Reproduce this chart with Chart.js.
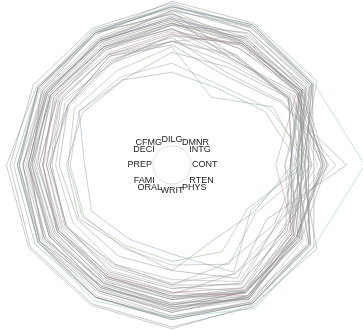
<!DOCTYPE html>
<html>
<head>
<meta charset="utf-8">
<script src="https://cdn.jsdelivr.net/npm/chart.js@4.4.0/dist/chart.umd.min.js"></script>
<style>
  html, body { margin: 0; padding: 0; background: #fff; }
  #wrap { width: 363px; height: 331px; }
</style>
</head>
<body>
<div id="wrap"><canvas id="c" width="363" height="331"></canvas></div>
<script>
// Categories (original column order, laid out counter-clockwise from the right)
const categories = ["CONT","INTG","DMNR","DILG","CFMG","DECI","PREP","FAMI","ORAL","WRIT","PHYS","RTEN"];

const judges = ["AARONSON,L.H.","ALEXANDER,J.M.","ARMENTANO,A.J.","BERDON,R.I.","BRACKEN,J.J.","BURNS,E.B.","CALLAHAN,R.J.","COHEN,S.S.","DALY,J.J.","DANNEHY,J.F.","DEAN,H.H.","DEVITA,H.J.","DRISCOLL,P.J.","GRILLO,A.E.","HADDEN,W.L.JR.","HAMILL,E.C.","HEALEY.A.H.","HULL,T.C.","LEVINE,I.","LEVISTER,R.L.","MARTIN,L.F.","MCGRATH,J.F.","MIGNONE,A.F.","MISSAL,H.M.","MULVEY,H.M.","NARUK,H.J.","O'BRIEN,F.J.","O'SULLIVAN,T.J.","PASKEY,L.","RUBINOW,J.E.","SADEN.G.A.","SATANIELLO,A.G.","SHEA,D.M.","SHEA,J.F.JR.","SIDOR,W.J.","SPEZIALE,J.A.","SPONZO,M.J.","STAPLETON,J.F.","TESTO,R.J.","TIERNEY,W.L.JR.","WALL,R.A.","WRIGHT,D.B.","ZARRILLI,K.J."];

const CONT = [5.7,6.8,7.2,6.8,7.3,6.2,10.6,7.0,7.3,8.2,7.0,6.5,6.7,7.0,6.5,7.3,8.0,7.7,8.3,9.6,7.1,7.6,6.6,6.2,7.5,7.8,7.1,7.5,7.5,7.1,6.6,8.4,6.9,7.3,7.7,8.5,6.9,6.5,8.3,8.3,9.0,7.1,8.6];
const INTG = [7.9,8.9,8.1,8.8,6.4,8.8,9.0,5.9,8.9,7.9,8.0,8.0,8.6,7.5,8.1,8.0,7.6,7.7,8.2,6.9,8.2,7.3,7.4,8.3,8.7,8.9,8.5,9.0,8.1,9.2,7.4,8.0,8.5,8.9,6.2,8.3,8.3,8.2,7.3,8.2,7.0,8.4,7.4];
const DMNR = [7.7,8.8,7.8,8.5,4.3,8.7,8.9,4.9,8.9,6.7,7.6,7.6,8.2,6.4,8.0,7.4,6.6,6.7,7.4,5.7,7.7,6.9,6.2,8.1,8.5,8.7,8.3,8.9,7.7,9.0,6.9,7.9,7.8,8.8,5.1,8.1,8.0,7.7,7.0,7.8,5.9,8.4,7.0];
const DILG = [7.3,8.5,7.8,8.8,6.5,8.5,8.7,5.1,8.7,8.1,7.4,7.2,6.8,6.8,8.0,7.7,7.2,7.5,7.8,6.6,7.1,6.8,6.2,7.7,8.6,8.9,8.0,8.7,8.2,9.0,8.4,7.9,8.5,8.7,5.6,8.3,8.1,7.8,6.8,8.3,7.0,7.7,7.5];
const CFMG = [7.1,7.8,7.5,8.3,6.0,7.9,8.5,5.4,8.6,7.9,7.3,7.0,6.9,6.5,7.9,7.3,6.5,7.4,7.7,6.9,6.6,6.7,5.4,7.4,8.5,8.7,7.9,8.4,8.0,8.4,8.0,7.8,8.1,8.4,5.6,8.4,7.9,7.6,7.0,8.4,7.0,7.5,7.5];
const DECI = [7.4,8.1,7.6,8.5,6.2,8.0,8.5,5.9,8.5,8.0,7.5,7.1,6.6,7.0,8.0,7.3,6.5,7.5,7.7,6.6,6.6,6.8,5.7,7.3,8.4,8.8,7.9,8.5,8.1,8.6,7.9,7.8,8.2,8.5,5.9,8.2,7.9,7.7,7.1,8.3,7.2,7.7,7.7];
const PREP = [7.1,8.0,7.5,8.7,5.7,8.1,8.5,4.8,8.4,7.9,7.1,6.9,7.1,6.6,7.9,7.3,6.8,7.1,7.7,6.2,6.7,6.4,5.8,7.3,8.5,8.9,7.8,8.4,8.2,9.1,8.2,7.6,8.4,8.5,5.6,8.2,7.9,7.7,6.7,7.7,6.9,7.8,7.4];
const FAMI = [7.1,8.0,7.5,8.7,5.7,8.0,8.5,5.1,8.4,8.1,7.2,7.0,7.3,6.8,7.8,7.2,6.7,7.3,7.8,6.0,6.7,6.3,5.9,7.3,8.5,9.0,7.8,8.3,8.4,9.1,8.4,7.4,8.5,8.5,5.6,8.1,7.7,7.7,6.7,7.6,6.9,8.2,7.2];
const ORAL = [7.1,7.8,7.3,8.4,5.1,8.0,8.6,4.7,8.4,7.7,7.1,7.0,7.2,6.3,7.8,7.1,6.4,7.1,7.5,5.8,6.8,6.3,5.2,7.2,8.4,8.8,7.8,8.3,8.0,8.9,7.7,7.4,8.1,8.4,5.3,7.9,7.6,7.5,6.7,7.5,6.5,8.0,6.9];
const WRIT = [7.0,7.9,7.4,8.5,5.3,8.0,8.4,4.9,8.5,7.8,7.2,7.1,7.2,6.6,7.8,7.2,6.5,7.3,7.6,5.8,6.8,6.3,5.8,7.3,8.4,8.9,7.7,8.3,8.1,9.0,7.9,7.4,8.3,8.4,5.5,8.0,7.7,7.6,6.7,7.7,6.6,8.1,7.0];
const PHYS = [8.3,8.5,7.9,8.8,5.5,8.6,9.1,6.8,8.8,8.5,8.4,6.9,8.1,6.2,8.4,8.0,6.9,8.1,8.0,7.2,7.5,7.4,4.7,7.8,8.7,9.0,8.3,8.8,8.4,8.9,8.4,8.1,8.7,8.8,6.3,8.0,8.1,8.5,8.0,8.1,7.6,8.3,7.8];
const RTEN = [7.8,8.7,7.8,8.7,4.8,8.6,9.0,5.0,8.8,7.9,7.7,7.2,7.7,6.5,8.0,7.6,6.7,7.4,8.0,6.0,7.3,6.6,5.2,7.6,8.7,9.0,8.2,8.7,8.1,9.2,7.5,7.9,8.3,8.8,5.3,8.2,8.0,7.7,7.0,7.9,6.6,8.1,7.1];

const columns = {CONT, INTG, DMNR, DILG, CFMG, DECI, PREP, FAMI, ORAL, WRIT, PHYS, RTEN};

// Chart.js goes clockwise from startAngle, so list axes clockwise starting at CONT (right)
const axisOrder = [0, 11, 10, 9, 8, 7, 6, 5, 4, 3, 2, 1];
const axisLabels = axisOrder.map(i => categories[i]);

const palette = ["#8e8e8e","#a0a0a0","#86948a","#8a8e99","#959595","#aaaaaa","#978c98","#9c9090","#8a8a8a","#7a7a7a","#99a094"];
const special = {4: "#7fae7f", 6: "#8cc2c0", 7: "#8396b8", 0: "#b78a8a"};

const datasets = judges.map((name, j) => {
  const col = special[j] || palette[j % palette.length];
  return {
    label: name,
    data: axisLabels.map(c => columns[c][j]),
    borderColor: col + "78",
    backgroundColor: "transparent",
    borderWidth: 1,
    pointRadius: 0,
    pointHoverRadius: 0,
    fill: false,
    tension: 0,
    clip: false
  };
});

new Chart(document.getElementById("c"), {
  type: "radar",
  data: { labels: axisLabels, datasets },
  options: {
    responsive: false,
    animation: false,
    events: [],
    layout: { padding: { right: 19 } },
    plugins: { legend: { display: false }, tooltip: { enabled: false } },
    scales: {
      r: {
        min: 0,
        max: 9.07,
        startAngle: 90,
        angleLines: { display: false },
        grid: { circular: true, color: "#dddddd", lineWidth: 1 },
        ticks: { display: false },
        afterBuildTicks: (scale) => { scale.ticks = [{ value: 0 }, { value: 1.05 }]; },
        pointLabels: {
          display: true,
          padding: -145,
          color: "#1a1a1a",
          font: { family: "'Liberation Sans', Arial, Helvetica, sans-serif", size: 9 }
        }
      }
    }
  }
});
</script>
</body>
</html>
